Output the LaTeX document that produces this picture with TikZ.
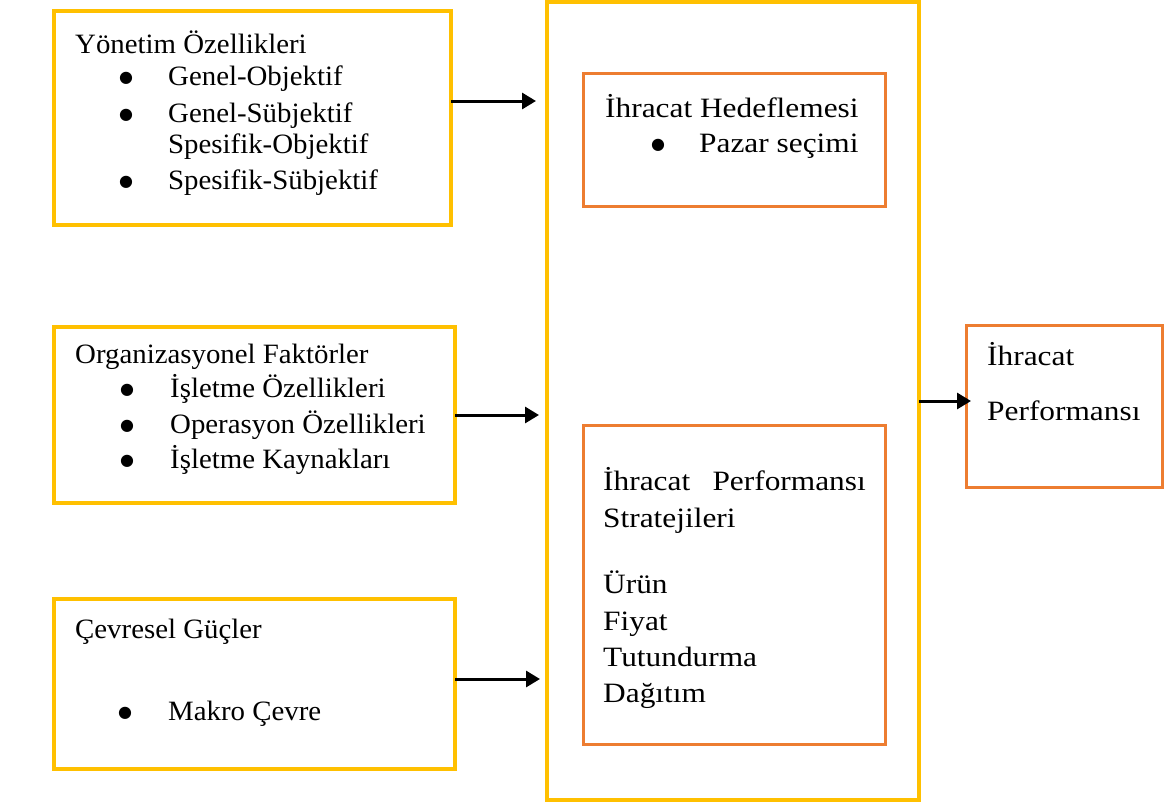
\documentclass[tikz,border=0pt]{standalone}
\usepackage{fontspec}
\setmainfont{Liberation Serif}
\newfontfamily\lfont{Liberation Serif}[FakeStretch=1.03]
\newfontfamily\rfont{Liberation Serif}[FakeStretch=1.12]
\newfontfamily\bfontdv{DejaVu Sans}
\usetikzlibrary{arrows.meta}
\definecolor{yel}{HTML}{FFC000}
\definecolor{org}{HTML}{ED7D31}
\begin{document}
\begin{tikzpicture}[x=1pt,y=-1pt,
  ybox/.style={draw=yel,line width=4pt,inner sep=0pt,outer sep=0pt,anchor=north west},
  obox/.style={draw=org,line width=3pt,inner sep=0pt,outer sep=0pt,anchor=north west},
  txt/.style={anchor=base west,inner sep=0pt,font=\lfont\fontsize{28}{32}\selectfont},
  rtxt/.style={anchor=base west,inner sep=0pt,font=\rfont\fontsize{28}{32}\selectfont},
  bul/.style={anchor=center,inner sep=0pt,yshift=7pt,font=\bfontdv\fontsize{16}{18}\selectfont},
  arr/.style={line width=3pt,-{Triangle[length=14pt,width=16pt]}}]
\useasboundingbox (0,0) rectangle (1169,809);
% boxes
\node[ybox,minimum width=397pt,minimum height=214pt] (b1) at (54,11) {};
\node[ybox,minimum width=401pt,minimum height=176pt] (b2) at (54,327) {};
\node[ybox,minimum width=401pt,minimum height=170pt] (b3) at (54,599) {};
\node[ybox,minimum width=372pt,minimum height=798pt] (big) at (547,2) {};
\node[obox,minimum width=302pt,minimum height=133pt] (o1) at (583,73) {};
\node[obox,minimum width=302pt,minimum height=319pt] (o2) at (583,425) {};
\node[obox,minimum width=196pt,minimum height=162pt] (o3) at (966,325) {};
% box 1 text
\node[txt] (t11) at (75,53) {Yönetim Özellikleri};
\node[bul] (u11) at (126,85) {●};
\node[txt] (t12) at (168,85) {Genel-Objektif};
\node[bul] (u12) at (126,122) {●};
\node[txt] (t13) at (168,122) {Genel-Sübjektif};
\node[txt] (t14) at (168,153) {Spesifik-Objektif};
\node[bul] (u14) at (126,189) {●};
\node[txt] (t15) at (168,189) {Spesifik-Sübjektif};
% box 2 text
\node[txt] (t21) at (75,363) {Organizasyonel Faktörler};
\node[bul] (u21) at (127,397) {●};
\node[txt] (t22) at (170,397) {İşletme Özellikleri};
\node[bul] (u22) at (127,433) {●};
\node[txt] (t23) at (170,433) {Operasyon Özellikleri};
\node[bul] (u23) at (127,468) {●};
\node[txt] (t24) at (170,468) {İşletme Kaynakları};
% box 3 text
\node[txt] (t31) at (75,638) {Çevresel Güçler};
\node[bul] (u31) at (125,720) {●};
\node[txt] (t32) at (168,720) {Makro Çevre};
% orange 1
\node[rtxt] (t41) at (605,117) {İhracat Hedeflemesi};
\node[bul] (u41) at (658,152) {●};
\node[rtxt] (t42) at (699,152) {Pazar seçimi};
% orange 2
\node[rtxt] (t51) at (603,490) {İhracat};
\node[rtxt,anchor=base east] (t52) at (866,490) {Performansı};
\node[rtxt] (t53) at (603,527) {Stratejileri};
\node[rtxt] (t54) at (603,593) {Ürün};
\node[rtxt] (t55) at (603,630) {Fiyat};
\node[rtxt] (t56) at (603,666) {Tutundurma};
\node[rtxt] (t57) at (603,702) {Dağıtım};
% right box
\node[rtxt] (t61) at (987,365) {İhracat};
\node[rtxt] (t62) at (987,420) {Performansı};
% arrows
\coordinate (e1) at (536,101);
\coordinate (e2) at (539,415);
\coordinate (e3) at (540,679);
\coordinate (e4) at (971,401);
\draw[arr] (b1.east |- e1) -- (e1);
\draw[arr] (b2.east |- e2) -- (e2);
\draw[arr] (b3.east |- e3) -- (e3);
\draw[arr] (big.east |- e4) -- (e4);
\end{tikzpicture}
\end{document}
